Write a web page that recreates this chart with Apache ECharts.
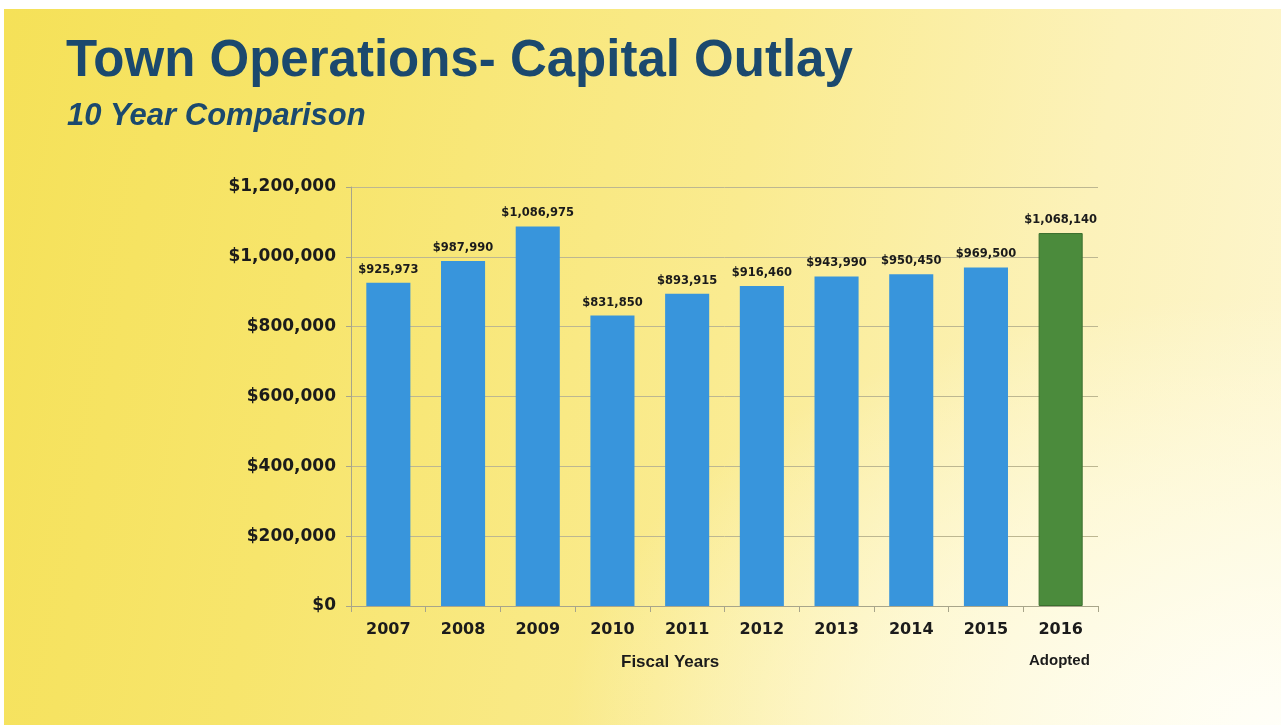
<!DOCTYPE html>
<html>
<head>
<meta charset="utf-8">
<script src="https://cdn.jsdelivr.net/npm/echarts@6/dist/echarts.min.js"></script>
<style>
  html, body { margin: 0; padding: 0; width: 1281px; height: 725px; background: #ffffff; overflow: hidden; }
  #paper {
    position: absolute; left: 4px; top: 9px; right: 0; bottom: 0;
    background:
      radial-gradient(ellipse 70% 75% at 100% 100%, rgba(255,255,250,0.95) 0%, rgba(255,253,235,0.6) 45%, rgba(255,250,220,0) 80%),
      linear-gradient(100deg, #f5e158 0%, #f7e56c 25%, #faeb90 55%, #fcf2ba 80%, #fdf6d0 100%);
  }
  #chart { position: absolute; left: 0; top: 0; width: 1281px; height: 725px; }
</style>
</head>
<body>
<div id="paper"></div>
<div id="chart"></div>
<script>
// Capital outlay by fiscal year (2016 = adopted budget)
const years = ['2007', '2008', '2009', '2010', '2011', '2012', '2013', '2014', '2015', '2016'];
const outlay = [925973, 987990, 1086975, 831850, 893915, 916460, 943990, 950450, 969500, 1068140];
const yTicks = [0, 200000, 400000, 600000, 800000, 1000000, 1200000];

const BLUE = '#3895dc';
const GREEN = '#4b8b3c';
const NAVY = '#1b496e';

const fmt = v => '$' + v.toLocaleString('en-US');

const chart = echarts.init(document.getElementById('chart'), null, { renderer: 'canvas' });

chart.setOption({
  backgroundColor: 'transparent',
  animation: false,
  title: [
    {
      text: 'Town Operations- Capital Outlay',
      left: 61, top: 31,
      textStyle: { fontFamily: 'Liberation Sans, Arial, sans-serif', fontWeight: 'bold', fontSize: 51, color: NAVY }
    },
    {
      text: '10 Year Comparison',
      left: 62, top: 96,
      textStyle: { fontFamily: 'Liberation Sans, Arial, sans-serif', fontWeight: 'bold', fontStyle: 'italic', fontSize: 31, color: NAVY }
    }
  ],
  grid: { left: 351, right: 183, top: 187, bottom: 119, containLabel: false },
  xAxis: {
    type: 'category',
    data: years,
    axisLine: { lineStyle: { color: '#a8a58a', width: 1 } },
    axisTick: { show: true, alignWithLabel: false, length: 6, lineStyle: { color: '#a8a58a' } },
    axisLabel: {
      margin: 16,
      fontFamily: 'DejaVu Sans, sans-serif', fontWeight: 'bold', fontSize: 16, color: '#1b1b1b'
    }
  },
  yAxis: {
    type: 'value',
    min: yTicks[0],
    max: yTicks[yTicks.length - 1],
    interval: yTicks[1] - yTicks[0],
    axisLine: { show: true, lineStyle: { color: '#a8a58a', width: 1 } },
    axisTick: { show: true, length: 5, lineStyle: { color: '#a8a58a' } },
    splitLine: { lineStyle: { color: '#bdb791', width: 1 } },
    axisLabel: {
      margin: 15,
      formatter: v => fmt(v),
      fontFamily: 'DejaVu Sans, sans-serif', fontWeight: 'bold', fontSize: 17, color: '#1b1b1b'
    }
  },
  series: [{
    type: 'bar',
    data: outlay.map((v, i) => ({
      value: v,
      itemStyle: i === outlay.length - 1
        ? { color: GREEN, borderColor: '#3a6f2e', borderWidth: 1 }
        : { color: BLUE }
    })),
    barWidth: '59%',
    label: {
      show: true,
      position: 'top',
      distance: 7,
      formatter: p => fmt(p.value),
      fontFamily: 'DejaVu Sans, sans-serif', fontWeight: 'bold', fontSize: 11.5, color: '#1b1b1b'
    }
  }],
  graphic: [
    {
      type: 'text', left: 621, top: 654,
      style: { text: 'Fiscal Years', font: 'bold 17px "Liberation Sans", Arial, sans-serif', fill: '#1b1b1b' }
    },
    {
      type: 'text', left: 1029, top: 653,
      style: { text: 'Adopted', font: 'bold 15px "Liberation Sans", Arial, sans-serif', fill: '#1b1b1b' }
    }
  ]
});
</script>
</body>
</html>
